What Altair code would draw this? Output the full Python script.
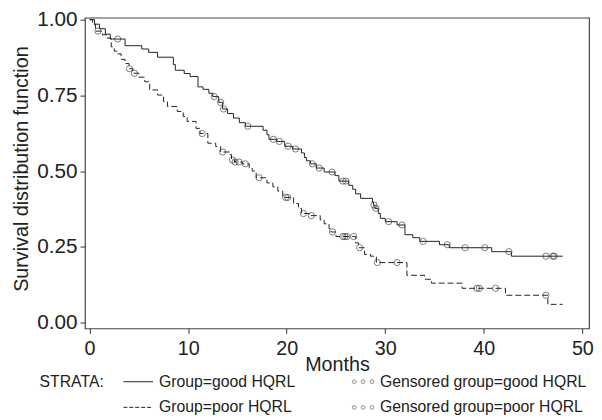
import altair as alt
import pandas as pd

# ---- Kaplan-Meier step data ----
good_t = [0, 0.5, 1.0, 1.6, 2.1, 3.6, 5.3, 6.0, 6.9, 8.5, 8.7, 9.6, 10.2, 11.0, 11.5, 12.1, 12.5, 13.1, 13.5,
          14.0, 14.6, 15.2, 15.8, 17.6, 18.0, 18.2, 19.0, 19.8, 20.6, 21.5, 21.8, 22.0, 22.4, 23.0, 23.8, 24.9,
          25.3, 26.3, 26.7, 27.0, 27.5, 28.7, 28.8, 28.95, 29.3, 29.5, 30.0, 31.2, 32.0, 32.8, 33.5, 35.5, 36.5,
          40.8, 42.8, 48.0]
good_s = [1.0, 0.985, 0.97, 0.952, 0.936, 0.914, 0.903, 0.892, 0.876, 0.852, 0.833, 0.822, 0.812, 0.778, 0.77,
          0.757, 0.746, 0.727, 0.705, 0.69, 0.675, 0.66, 0.648, 0.635, 0.62, 0.605, 0.598, 0.582, 0.573, 0.56,
          0.545, 0.534, 0.524, 0.51, 0.497, 0.485, 0.467, 0.453, 0.44, 0.425, 0.41, 0.398, 0.388, 0.377, 0.36,
          0.344, 0.333, 0.322, 0.29, 0.28, 0.268, 0.257, 0.247, 0.234, 0.219, 0.219]

good_cens_t = [2.85, 12.65, 13.3, 13.6, 16.06, 18.65, 19.25, 20.15, 20.9, 22.6, 23.3, 24.6, 25.7, 26.0, 28.86,
               29.05, 30.35, 31.7, 33.85, 36.3, 38.1, 40.1, 42.55, 46.3, 47.0, 47.15]
good_cens_s = [0.936, 0.746, 0.727, 0.705, 0.648, 0.605, 0.598, 0.582, 0.573, 0.524, 0.51, 0.497, 0.467, 0.467,
               0.388, 0.377, 0.333, 0.322, 0.268, 0.257, 0.247, 0.247, 0.234, 0.219, 0.219, 0.219]

poor_t = [0, 0.3, 0.6, 1.3, 1.8, 2.2, 2.5, 2.8, 3.2, 3.6, 4.0, 4.4, 5.0, 5.6, 6.1, 6.9, 7.5, 7.9, 8.9, 9.5, 9.9,
          10.8, 11.2, 12.0, 12.8, 13.3, 14.2, 14.4, 14.7, 15.5, 16.2, 16.5, 16.9, 18.0, 18.6, 19.1, 19.6, 20.7,
          21.2, 21.5, 22.3, 23.4, 23.8, 24.3, 24.5, 25.0, 27.0, 27.3, 27.9, 28.5, 29.1, 32.2, 34.0, 34.7, 37.8,
          42.2, 46.5, 48.0]
poor_s = [1.0, 0.985, 0.962, 0.95, 0.939, 0.91, 0.896, 0.887, 0.869, 0.855, 0.838, 0.823, 0.81, 0.795, 0.768,
          0.751, 0.73, 0.713, 0.697, 0.68, 0.664, 0.641, 0.624, 0.592, 0.581, 0.563, 0.554, 0.537, 0.53, 0.524,
          0.51, 0.5, 0.478, 0.461, 0.448, 0.434, 0.413, 0.393, 0.377, 0.36, 0.353, 0.339, 0.326, 0.31, 0.299,
          0.284, 0.263, 0.247, 0.225, 0.219, 0.198, 0.156, 0.143, 0.13, 0.113, 0.09, 0.06, 0.06]

poor_cens_t = [0.86, 4.05, 4.55, 11.43, 13.5, 14.5, 14.76, 15.16, 15.8, 17.2, 19.9, 20.1, 21.7, 22.5, 24.65,
               25.7, 25.9, 26.1, 26.8, 27.4, 29.2, 31.2, 39.3, 39.55, 41.2, 46.3]
poor_cens_s = [0.962, 0.838, 0.823, 0.624, 0.563, 0.537, 0.53, 0.53, 0.524, 0.478, 0.413, 0.413, 0.36, 0.353,
               0.299, 0.284, 0.284, 0.284, 0.284, 0.247, 0.198, 0.198, 0.113, 0.113, 0.113, 0.09]

x_ticks = [0, 10, 20, 30, 40, 50]
y_ticks = [0.0, 0.25, 0.5, 0.75, 1.0]

legend_labels = ["Group=good HQRL", "Group=poor HQRL"]
legend_cens_labels = ["Gensored group=good HQRL", "Gensored group=poor HQRL"]

FONT = "Liberation Sans"
INK = "#222222"

good = pd.DataFrame({"t": good_t, "s": good_s})
poor = pd.DataFrame({"t": poor_t, "s": poor_s})
gc = pd.DataFrame({"t": good_cens_t, "s": good_cens_s})
pc = pd.DataFrame({"t": poor_cens_t, "s": poor_cens_s})

xs = alt.Scale(domain=[-0.47, 50.68], nice=False, zero=False)
ys = alt.Scale(domain=[-0.0195, 1.0065], nice=False, zero=False)

x_enc = alt.X("t:Q", scale=xs, axis=alt.Axis(
    values=x_ticks, format="d", title="Months", titleFontSize=20, labelFontSize=20,
    titleFontWeight="normal", tickSize=5, labelPadding=5, titleY=37, titleBaseline="middle"))
y_enc = alt.Y("s:Q", scale=ys, axis=alt.Axis(
    values=y_ticks, format=".2f", title="Survival distribution function", titleFontSize=20,
    labelFontSize=21, titleFontWeight="normal", tickSize=5, labelPadding=3, titleX=-64,
    titleY=153, titleBaseline="middle"))

good_line = alt.Chart(good).mark_line(interpolate="step-after", color=INK, strokeWidth=1).encode(x=x_enc, y=y_enc)
poor_line = alt.Chart(poor).mark_line(interpolate="step-after", color=INK, strokeWidth=1,
                                      strokeDash=[6, 3]).encode(x="t:Q", y="s:Q")
good_pts = alt.Chart(gc).mark_point(shape="circle", filled=False, size=40, color="#333333",
                                    strokeWidth=0.9).encode(x="t:Q", y="s:Q")
poor_pts = alt.Chart(pc).mark_point(shape="circle", filled=False, size=40, color="#333333",
                                    strokeWidth=0.9).encode(x="t:Q", y="s:Q")

one = pd.DataFrame({"a": [0]})
R1, R2 = 369, 395


def txt(label, x, y):
    return alt.Chart(one).mark_text(text=label, align="left", baseline="middle", font=FONT,
                                    fontSize=16, color=INK).encode(x=alt.value(x), y=alt.value(y))


legend = [
    txt("STRATA:", -46, R1),
    alt.Chart(one).mark_rule(color=INK, strokeWidth=1).encode(x=alt.value(39), x2=alt.value(69), y=alt.value(R1)),
    alt.Chart(one).mark_rule(color=INK, strokeWidth=1, strokeDash=[4, 2]).encode(
        x=alt.value(39), x2=alt.value(69), y=alt.value(R2)),
    txt(legend_labels[0], 75, R1),
    txt(legend_labels[1], 75, R2),
    txt(legend_cens_labels[0], 299, R1),
    txt(legend_cens_labels[1], 299, R2),
]
for cx in (273, 282, 291):
    for ry in (R1, R2):
        legend.append(alt.Chart(one).mark_point(shape="circle", filled=False, size=14, color="#333333",
                                                strokeWidth=0.8).encode(x=alt.value(cx), y=alt.value(ry)))

chart = alt.layer(good_line, poor_line, good_pts, poor_pts, *legend).properties(
    width=511, height=315,
    autosize=alt.AutoSizeParams(type="none"),
    padding={"left": 78, "top": 7, "right": 5, "bottom": 90},
).configure_view(stroke="#444444", strokeWidth=1.2).configure_axis(
    domain=False, grid=False, tickColor="#333333", labelColor=INK, titleColor=INK,
    labelFont=FONT, titleFont=FONT)

chart.save("out.html", embed_options={"renderer": "svg", "actions": False})
